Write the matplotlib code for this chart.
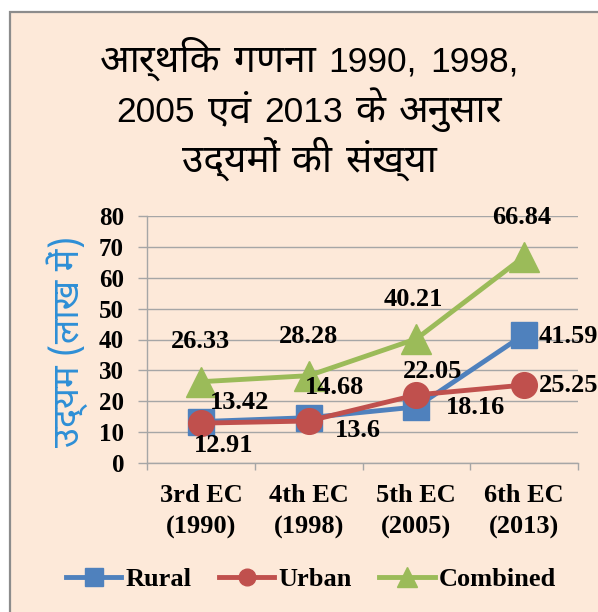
import matplotlib
matplotlib.use("Agg")
import matplotlib.pyplot as plt
from matplotlib import font_manager as fm
from matplotlib.ft2font import FT2Font
from matplotlib.patches import Rectangle
from matplotlib.lines import Line2D

# ---------------- data ----------------
categories = ["3rd EC\n(1990)", "4th EC\n(1998)", "5th EC\n(2005)", "6th EC\n(2013)"]
rural = [13.42, 14.68, 18.16, 41.59]
urban = [12.91, 13.6, 22.05, 25.25]
combined = [26.33, 28.28, 40.21, 66.84]
yticks = [0, 10, 20, 30, 40, 50, 60, 70, 80]
title_lines = ["आर्थिक गणना 1990, 1998,", "2005 एवं 2013 के अनुसार", "उद्यमों की संख्या"]
ylabel = "उद्यम (लाख में)"
series_names = ["Rural", "Urban", "Combined"]

# ---------------- find a Devanagari font ----------------
dev_avail = []
for f in fm.fontManager.ttflist:
    if "unifont" in f.fname.lower():
        continue
    try:
        cm = FT2Font(f.fname).get_charmap()
    except Exception:
        continue
    if 0x0906 in cm and 0x0923 in cm and 0x092E in cm:
        dev_avail.append(f.name)
prefs = ["Noto Sans Devanagari", "Hind", "Mukta", "Lohit Devanagari", "Mangal",
         "FreeSans"]
dev_font = None
for p in prefs:
    if p in dev_avail:
        dev_font = p
        break
if dev_font is None and dev_avail:
    dev_font = dev_avail[0]
sans = ["Liberation Sans"] + ([dev_font] if dev_font else []) + ["DejaVu Sans"]
devfam = ([dev_font] if dev_font else []) + ["Liberation Sans", "DejaVu Sans"]
serif = ["Liberation Serif", "DejaVu Serif"]

W, H = 598, 612
fig = plt.figure(figsize=(W / 100, H / 100), dpi=100)
fig.patch.set_facecolor("white")
bg = "#FDE9D9"
fig.patches.append(Rectangle((10 / W, -0.1), 1.2, (H - 12) / H + 0.1,
                             transform=fig.transFigure, facecolor=bg,
                             edgecolor="#8C8C8C", linewidth=1.6, zorder=-5))

def fx(px):
    return px / W

def fy(py):
    return 1 - py / H

ax = fig.add_axes([fx(147), fy(463), fx(578) - fx(147), fy(216) - fy(463)])
ax.set_facecolor("none")

colors = ["#4F81BD", "#C0504D", "#9BBB59"]
xs = [i + 0.5 for i in range(len(categories))]

ax.plot(xs, rural, color=colors[0], lw=3.5, marker="s", ms=19, mew=1,
        mec=colors[0], clip_on=False, zorder=3)
ax.plot(xs, urban, color=colors[1], lw=3.5, marker="o", ms=18.5, mew=1,
        mec=colors[1], clip_on=False, zorder=4)
ax.plot(xs, combined, color=colors[2], lw=3.5, marker="^", ms=21, mew=1,
        mec=colors[2], clip_on=False, zorder=5)

# label offsets in pixels (dx, dy with dy positive downward)
rural_off = [(39, -19), (26, -30), (59, 1), (44, 2)]
urban_off = [(23, 22), (49, 9), (16, -23), (44, 0)]
comb_off = [(0, -40), (0, -39), (-3, -39), (-2, -39)]

def label(vals, offs):
    for x, v, (dx, dy) in zip(xs, vals, offs):
        ax.annotate(f"{v:g}", (x, v), xytext=(dx * 0.72, -dy * 0.72),
                    textcoords="offset points", ha="center", va="center",
                    fontsize=19, fontweight="bold", family=serif,
                    annotation_clip=False, zorder=6)

label(rural, rural_off)
label(urban, urban_off)
label(combined, comb_off)

ax.set_xlim(0, 4)
ax.set_ylim(0, 80)
ax.set_yticks(yticks)
ax.set_yticklabels([str(t) for t in yticks])
ax.grid(axis="y", color="#A6A6A6", lw=1)
ax.set_axisbelow(True)
for s in ["top", "right"]:
    ax.spines[s].set_visible(False)
for s in ["left", "bottom"]:
    ax.spines[s].set_color("#A6A6A6")
    ax.spines[s].set_linewidth(1)

ax.tick_params(axis="y", length=6.5, color="#A6A6A6", width=1, pad=10,
               labelsize=18)
for t in ax.get_yticklabels():
    t.set_fontweight("bold")
    t.set_family(serif)

ax.set_xticks([0, 1, 2, 3, 4])
ax.set_xticklabels([""] * 5)
ax.tick_params(axis="x", which="major", length=5, color="#A6A6A6", width=1)
ax.set_xticks(xs, minor=True)
ax.set_xticklabels(categories, minor=True)
ax.tick_params(axis="x", which="minor", length=0, pad=15, labelsize=19)
for t in ax.get_xticklabels(minor=True):
    t.set_fontweight("bold")
    t.set_family(serif)
    t.set_linespacing(1.5)

# title: words drawn separately so Devanagari can be a little larger
renderer = fig.canvas.get_renderer()

def is_dev(word):
    return any(0x0900 <= ord(c) <= 0x097F for c in word)

gap = 13  # px between words
for line, base in zip(title_lines, [72, 122, 172]):
    words = line.split(" ")
    objs = []
    for wd in words:
        if is_dev(wd):
            t = fig.text(0, fy(base), wd, ha="left", va="baseline",
                         fontsize=28, family=devfam, color="black")
        else:
            t = fig.text(0, fy(base), wd, ha="left", va="baseline",
                         fontsize=25.5, family=sans, color="black")
        objs.append(t)
    widths = [o.get_window_extent(renderer).width for o in objs]
    total = sum(widths) + gap * (len(objs) - 1)
    x0 = 309 - total / 2
    for o, wdt in zip(objs, widths):
        o.set_x(fx(x0))
        x0 += wdt + gap

# y label
fig.text(fx(67), fy(341), ylabel, rotation=90, ha="center", va="center",
         fontsize=26, family=devfam, color="#2E8FD6")

# legend
handles = [
    Line2D([], [], color=colors[0], lw=3.5, marker="s", ms=13),
    Line2D([], [], color=colors[1], lw=3.5, marker="o", ms=12),
    Line2D([], [], color=colors[2], lw=3.5, marker="^", ms=14),
]
fig.legend(handles, series_names, loc="center", bbox_to_anchor=(fx(311), fy(579)),
           ncol=3, frameon=False, handlelength=2.1, handletextpad=0.15,
           columnspacing=1.05, borderpad=0,
           prop={"family": serif, "weight": "bold", "size": 19})

fig.savefig("out.png", dpi=100, facecolor=fig.get_facecolor())
